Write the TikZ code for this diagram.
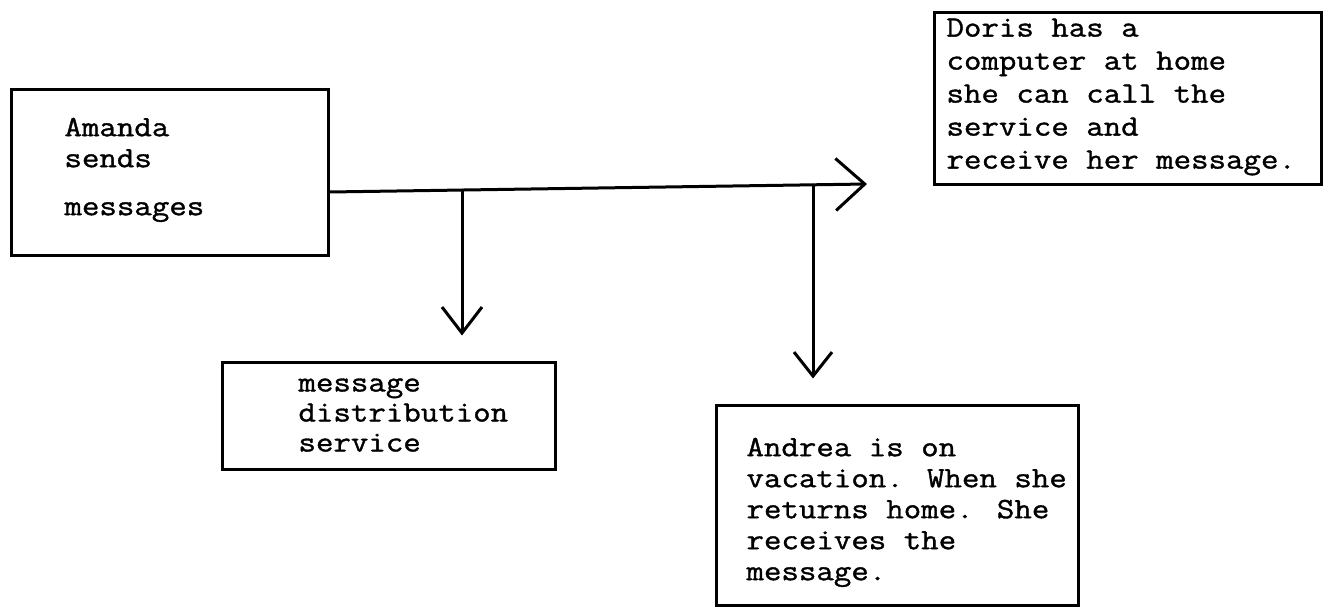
\documentclass[tikz,border=0pt]{standalone}
\usepackage{fontspec}
\newfontfamily\typefont[FakeStretch=1.15,FakeBold=1.2]{Latin Modern Mono}
\usetikzlibrary{arrows.meta}

\begin{document}
\begin{tikzpicture}[x=1pt,y=-1pt,line width=3pt,line cap=round,
  box/.style={draw,inner sep=0pt},
  txt/.style={anchor=north west,inner sep=0pt,align=left},
  typed/.style={font=\typefont\fontsize{29.5}{#1}\selectfont}]
\useasboundingbox (0,0) rectangle (1330,610);

\node[box,minimum width=317pt,minimum height=166pt] (amanda) at (169.5,172) {};
\node[box,minimum width=387pt,minimum height=171pt] (doris) at (1127.5,98.5) {};
\node[box,minimum width=333pt,minimum height=107pt] (service) at (388.5,415.5) {};
\node[box,minimum width=362pt,minimum height=200pt] (andrea) at (897,505) {};

\node[txt,typed=31] (amandatext) at (63,113) {\strut Amanda\\sends\\[17pt]messages};
\node[txt,typed=33] (doristext) at (945,12) {\strut Doris has a\\computer at home\\she can call the\\service and\\receive her message.};
\node[txt,typed=30] (servicetext) at (297,369) {\strut message\\distribution\\service};
\node[txt,typed=31] (andreatext) at (745,433) {\strut Andrea is on\\vacation. When she\\returns home. She\\receives the\\message.};

\coordinate (fork1) at (462,190);
\coordinate (fork2) at (813,185);
\coordinate (mainend) at (867,184);

\draw[-{Straight Barb[length=29pt,width=52pt]}] ([yshift=-20pt]amanda.east) -- (mainend);
\draw[-{Straight Barb[length=26pt,width=40pt]},shorten >=25pt] (fork1) -- (fork1 |- service.north);
\draw[-{Straight Barb[length=24pt,width=38pt]},shorten >=25pt] (fork2) -- (fork2 |- andrea.north);
\end{tikzpicture}
\end{document}
